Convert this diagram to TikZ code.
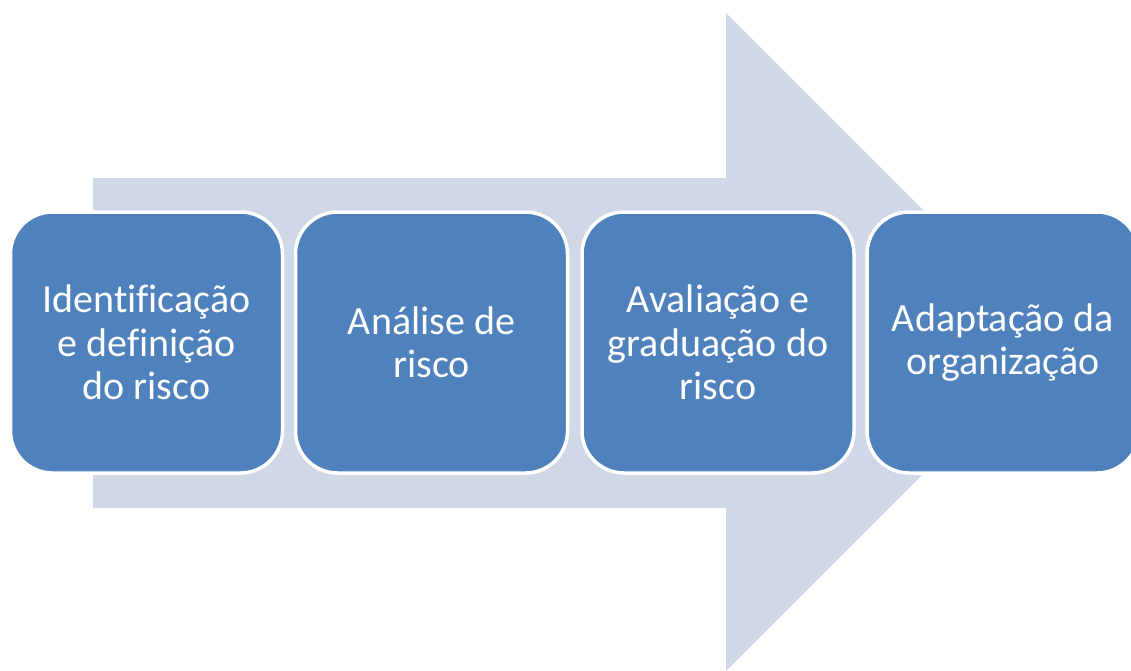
\documentclass[tikz,border=0pt]{standalone}
\usepackage{fontspec}
\setmainfont[Ligatures=NoCommon]{Carlito}
\definecolor{boxblue}{HTML}{4F81BD}
\definecolor{arrowgray}{HTML}{D0D8E8}
\begin{document}
\begin{tikzpicture}[x=1pt,y=-1pt,
  stepbox/.style={rectangle, rounded corners=42pt, fill=boxblue, draw=white, line width=3.5pt,
    minimum width=272pt, minimum height=261pt, inner sep=0pt, text=white, align=center,
    font=\fontsize{40}{43.5}\selectfont, anchor=center}]
\useasboundingbox (0,0) rectangle (1131,670);
\clip (0,0) rectangle (1131,670);
\fill[arrowgray] (93,178) -- (726,178) -- (726,13) -- (1055,342) -- (726,671) -- (726,508) -- (93,508) -- cycle;
\node[stepbox] (s1) at (146.5,342.5) {Identificação\\e definição\\do risco};
\node[stepbox] (s2) at (431.5,342.5) {Análise de\\risco};
\node[stepbox] (s3) at (718,342.5) {Avaliação e\\graduação do\\risco};
\node[stepbox] (s4) at (1003,342.5) {Adaptação da\\organização};
\end{tikzpicture}
\end{document}
